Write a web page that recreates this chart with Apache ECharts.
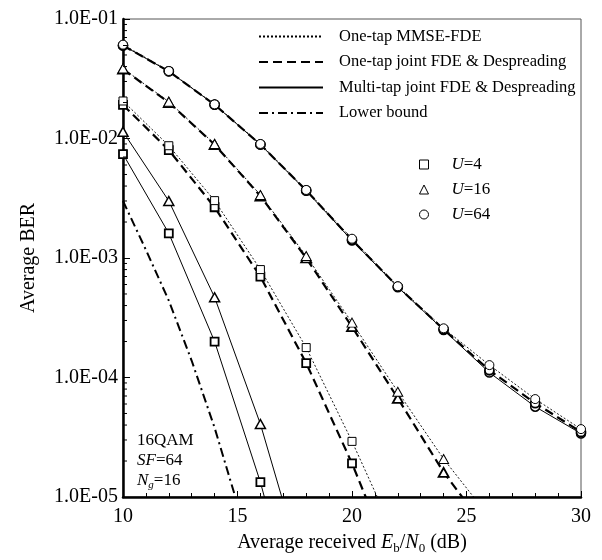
<!DOCTYPE html>
<html>
<head>
<meta charset="utf-8">
<script src="https://cdn.jsdelivr.net/npm/echarts@6/dist/echarts.min.js"></script>
<style>
  html, body { margin: 0; padding: 0; background: #fff; }
  #main { width: 602px; height: 560px; }
</style>
</head>
<body>
<div id="main"></div>
<script>
// Eb/N0 points (dB)
var snr = [10, 12, 14, 16, 18, 20, 22, 24, 26, 28, 30];

// U=4
var mmse4  = [2.06e-2, 8.7e-3, 3.02e-3, 8.0e-4, 1.78e-4, 2.92e-5, 4.2e-6];
var joint4 = [1.91e-2, 8.0e-3, 2.66e-3, 6.98e-4, 1.32e-4, 1.91e-5, 2.2e-6];
var multi4 = [7.4e-3, 1.61e-3, 2.0e-4, 1.33e-5, 5e-7];
// U=16
var mmse16  = [3.85e-2, 2.03e-2, 9.0e-3, 3.37e-3, 1.04e-3, 2.88e-4, 7.6e-5, 2.08e-5, 6.8e-6];
var joint16 = [3.80e-2, 2.0e-2, 8.9e-3, 3.3e-3, 1.0e-3, 2.66e-4, 6.7e-5, 1.61e-5, 5e-6];
var multi16 = [1.14e-2, 3.0e-3, 4.69e-4, 4.08e-5, 2e-6];
// U=64
var mmse64  = [6.1e-2, 3.67e-2, 1.93e-2, 9.0e-3, 3.71e-3, 1.45e-3, 5.8e-4, 2.58e-4, 1.27e-4, 6.6e-5, 3.7e-5];
var joint64 = [6.0e-2, 3.65e-2, 1.92e-2, 8.9e-3, 3.68e-3, 1.42e-3, 5.75e-4, 2.53e-4, 1.15e-4, 6.1e-5, 3.5e-5];
var multi64 = [6.0e-2, 3.65e-2, 1.92e-2, 8.9e-3, 3.65e-3, 1.40e-3, 5.7e-4, 2.5e-4, 1.10e-4, 5.7e-5, 3.4e-5];
// lower bound
var boundX   = [10, 11, 12, 13, 14, 15];
var boundBer = [3.0e-3, 1.17e-3, 4.4e-4, 1.38e-4, 3.8e-5, 8.7e-6];

// legend entries
var lineNames = ['One-tap MMSE-FDE', 'One-tap joint FDE & Despreading', 'Multi-tap joint FDE & Despreading', 'Lower bound'];
var userNames = ['U=4', 'U=16', 'U=64'];

// y minor ticks (2..9 in each decade)
var decades = [1e-5, 1e-4, 1e-3, 1e-2];
var minorMul = [2, 3, 4, 5, 6, 7, 8, 9];

var serif = 'Liberation Serif';
var myChart = echarts.init(document.getElementById('main'));

function pairs(xs, ys) {
    var out = [];
    for (var i = 0; i < ys.length; i++) out.push([xs[i], ys[i]]);
    return out;
}

var dotted = { type: [2, 2], width: 0.9, color: '#000' };
var dashed = { type: [9, 5], width: 2.2, color: '#000' };
var solid = { type: 'solid', width: 1, color: '#000' };
var dashDot = { type: [9, 4, 2, 4], width: 2, color: '#000' };

function curve(name, ys, line, symbol, size, bw) {
    return {
        name: name,
        type: 'line',
        data: pairs(snr, ys),
        lineStyle: line,
        symbol: symbol,
        symbolSize: size,
        showAllSymbol: true,
        itemStyle: { color: '#fff', borderColor: '#000', borderWidth: bw },
        clip: true,
        animation: false
    };
}

var minorData = [];
for (var d = 0; d < decades.length; d++) {
    for (var m = 0; m < minorMul.length; m++) minorData.push([10, decades[d] * minorMul[m]]);
}

var series = [
    curve('m64', multi64, solid, 'circle', 9, 1.5),
    curve('j64', joint64, dashed, 'circle', 9, 1.8),
    curve('o64', mmse64, dotted, 'circle', 9, 1),
    curve('m16', multi16, solid, 'triangle', [10, 9], 1.5),
    curve('j16', joint16, dashed, 'triangle', [10, 9], 1.8),
    curve('o16', mmse16, dotted, 'triangle', [10, 9], 1),
    curve('m4', multi4, solid, 'rect', 8, 1.8),
    curve('j4', joint4, dashed, 'rect', 8, 1.8),
    curve('o4', mmse4, dotted, 'rect', 8, 1),
    {
        name: 'bound', type: 'line', data: pairs(boundX, boundBer),
        lineStyle: dashDot, symbol: 'none', clip: true, animation: false
    },
    {
        type: 'custom', data: minorData, silent: true, clip: false, z: 5,
        renderItem: function (params, api) {
            var p = api.coord([api.value(0), api.value(1)]);
            return { type: 'line', shape: { x1: p[0], y1: p[1], x2: p[0] + 4, y2: p[1] },
                     style: { stroke: '#000', lineWidth: 1 } };
        }
    }
];
// legend-only series
var legendLines = [dotted, dashed, solid, dashDot];
lineNames.forEach(function (n, i) {
    series.push({ name: n, type: 'line', data: [], symbol: 'none', lineStyle: legendLines[i],
                  itemStyle: { opacity: 0 } });
});
userNames.forEach(function (n) {
    series.push({ name: n, type: 'line', data: [], symbol: 'none' });
});

var option = {
    animation: false,
    grid: { left: 123, right: 21, top: 19, bottom: 63, show: true, borderColor: '#555', borderWidth: 1 },
    legend: [{
        orient: 'vertical', left: 258, top: 28, padding: 0,
        itemWidth: 64, itemHeight: 14, itemGap: 8.5,
        selectedMode: false,
        data: lineNames,
        itemStyle: { color: 'rgba(0,0,0,0)', borderWidth: 0, opacity: 0 },
        textStyle: { fontFamily: serif, fontSize: 16.5, color: '#000', lineHeight: 16, padding: [0, 0, 0, 11] }
    }, {
        orient: 'vertical', left: 419, top: 156, padding: 0,
        itemWidth: 9, itemHeight: 9, itemGap: 8,
        selectedMode: false,
        data: [{ name: 'U=4', icon: 'rect' }, { name: 'U=16', icon: 'triangle' }, { name: 'U=64', icon: 'circle' }],
        itemStyle: { color: '#fff', borderColor: '#000', borderWidth: 1 },
        formatter: function (name) {
            var p = name.split('=');
            return '{i|' + p[0] + '}=' + p[1];
        },
        textStyle: {
            fontFamily: serif, fontSize: 17, color: '#000', lineHeight: 16, padding: [0, 0, 0, 18],
            rich: { i: { fontFamily: serif, fontSize: 17, fontStyle: 'italic', lineHeight: 16 } }
        }
    }],
    xAxis: {
        type: 'value', min: 10, max: 30, interval: 5,
        name: '{t|Average received }{i|E}{s|b}{t|/}{i|N}{s|0}{t| (dB)}',
        nameLocation: 'middle', nameGap: 34,
        nameTextStyle: {
            fontFamily: serif, fontSize: 20, color: '#000',
            rich: {
                t: { fontFamily: serif, fontSize: 20, lineHeight: 24 },
                i: { fontFamily: serif, fontSize: 20, fontStyle: 'italic', lineHeight: 24 },
                s: { fontFamily: serif, fontSize: 13, lineHeight: 13, verticalAlign: 'bottom' }
            }
        },
        axisLine: { lineStyle: { color: '#000', width: 2.5 } },
        axisTick: { inside: true, length: 6, lineStyle: { color: '#000', width: 1 } },
        minorTick: { show: true, splitNumber: 5, length: 4, lineStyle: { color: '#000', width: 1 } },
        axisLabel: { fontFamily: serif, fontSize: 20, color: '#000', margin: 10 },
        splitLine: { show: false }
    },
    yAxis: {
        type: 'log', logBase: 10, min: 1e-5, max: 1e-1,
        name: 'Average BER', nameLocation: 'middle', nameGap: 84, nameRotate: 90,
        nameTextStyle: { fontFamily: serif, fontSize: 20, color: '#000' },
        axisLine: { lineStyle: { color: '#000', width: 2.5 } },
        axisTick: { inside: true, length: 7, lineStyle: { color: '#000', width: 1 } },
        axisLabel: {
            fontFamily: serif, fontSize: 20, color: '#000', margin: 5,
            formatter: function (v) {
                var e = Math.round(Math.log10(v));
                var a = Math.abs(e);
                return '1.0E' + (e < 0 ? '-' : '+') + (a < 10 ? '0' : '') + a;
            }
        },
        splitLine: { show: false }
    },
    graphic: [{
        type: 'text', left: 137, top: 431,
        style: {
            text: '16QAM\n{i|SF}=64\n{i|N}{s|g}=16',
            fontFamily: serif, fontSize: 17, fill: '#000', lineHeight: 20,
            rich: {
                i: { fontFamily: serif, fontSize: 17, fontStyle: 'italic', lineHeight: 20 },
                s: { fontFamily: serif, fontSize: 11, fontStyle: 'italic', lineHeight: 11, verticalAlign: 'bottom' }
            }
        }
    }],
    series: series
};

myChart.setOption(option);
</script>
</body>
</html>
